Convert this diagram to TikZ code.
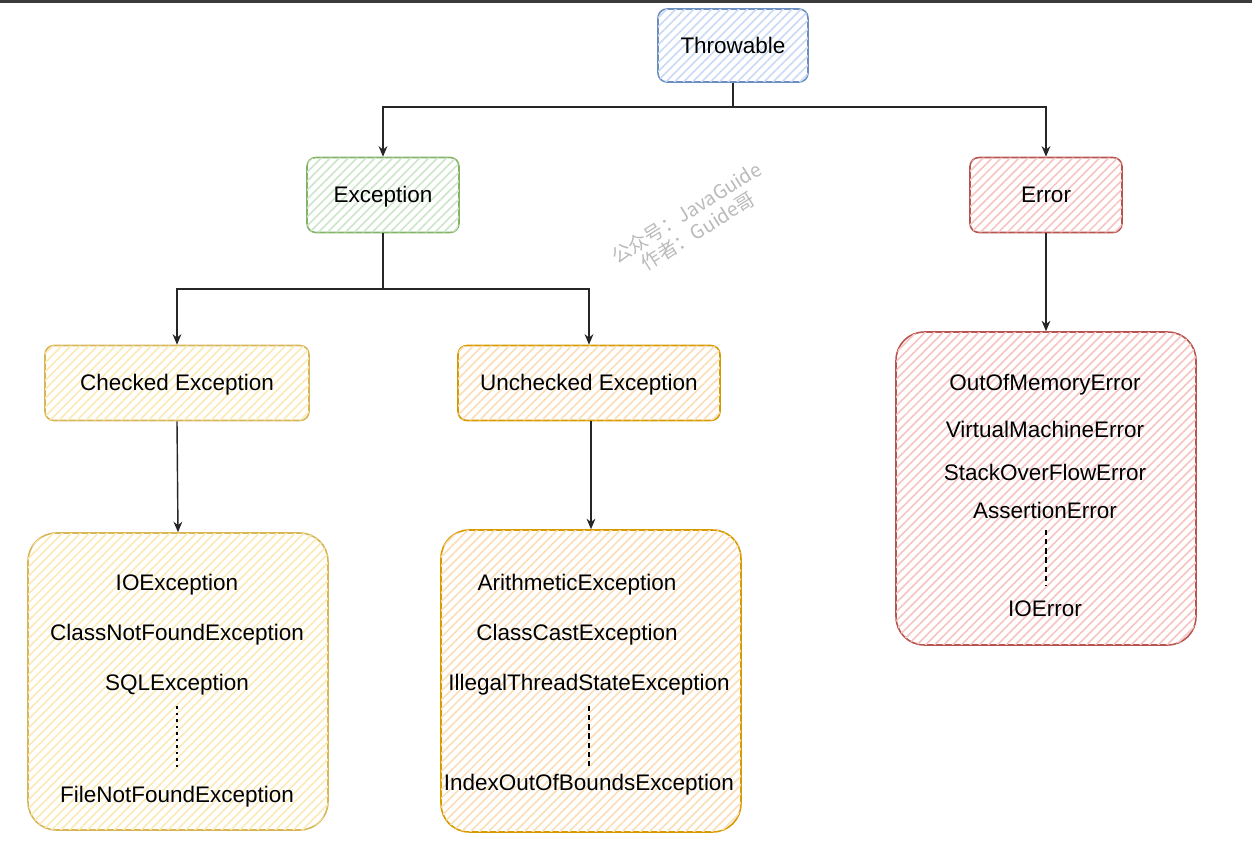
\documentclass[tikz,border=0pt]{standalone}
\usepackage{fontspec}
\setmainfont{Liberation Sans}
\newfontfamily\cjkfont{Noto Sans CJK SC}
\usetikzlibrary{arrows.meta,patterns.meta}
\definecolor{blueB}{HTML}{6C8EBF}\definecolor{blueH}{HTML}{C9DAF5}
\definecolor{greenB}{HTML}{82B366}\definecolor{greenH}{HTML}{CDE5C9}
\definecolor{redB}{HTML}{B85450}\definecolor{redH}{HTML}{F6C4C2}
\definecolor{yelB}{HTML}{D6B656}\definecolor{yelH}{HTML}{FCE9B4}
\definecolor{oraB}{HTML}{D79B00}\definecolor{oraH}{HTML}{FBDDB8}
\definecolor{barC}{HTML}{3B3B3B}
\tikzset{
  base/.style={draw=#1B, line width=0.9pt, fill=white, font=\fontsize{12.8}{15}\selectfont,
    text depth=0.05em,
    postaction={pattern={Lines[angle=45,distance=3.6pt,line width=0.9pt]}, pattern color=#1H}},
  smallbox/.style={base=#1, rounded corners=5pt},
  bigbox/.style={base=#1, rounded corners=16pt},
  lbl/.style={font=\fontsize{12.8}{15}\selectfont, inner sep=1pt, yshift=-1.2pt},
  arr/.style={-{Stealth[length=6pt,width=5pt]}, line width=0.8pt, draw=black!85},
  wm/.style={font=\cjkfont\fontsize{11}{12.4}\selectfont, text=black!27, rotate=32, align=left, inner sep=0pt}
}
\begin{document}
\begin{tikzpicture}[x=0.02cm,y=-0.02cm]
\useasboundingbox (0,0) rectangle (1252,855);
\fill[barC] (0,0) rectangle (1252,3.5);
% top boxes
\node[smallbox=blue, minimum width=3cm, minimum height=1.46cm] (thr) at (733,45.5) {Throwable};
\node[smallbox=green, minimum width=3.04cm, minimum height=1.5cm] (exc) at (383,195) {Exception};
\node[smallbox=red, minimum width=3.04cm, minimum height=1.5cm] (err) at (1046,195) {Error};
\node[smallbox=yel, minimum width=5.28cm, minimum height=1.5cm] (chk) at (177,383) {Checked Exception};
\node[smallbox=ora, minimum width=5.24cm, minimum height=1.5cm] (unc) at (589,383) {Unchecked Exception};
% big boxes
\node[bigbox=yel, minimum width=6cm, minimum height=5.94cm] (chkl) at (178,681.5) {};
\node[bigbox=ora, minimum width=6cm, minimum height=6.04cm] (uncl) at (591,681) {};
\node[bigbox=red, minimum width=6cm, minimum height=6.26cm] (errl) at (1046,488.5) {};
% list texts
\node[lbl] (c1) at (177,583) {IOException};
\node[lbl] (c2) at (177,633) {ClassNotFoundException};
\node[lbl] (c3) at (177,683) {SQLException};
\node[lbl] (c4) at (177,795) {FileNotFoundException};
\node[lbl] (u1) at (577,583) {ArithmeticException};
\node[lbl] (u2) at (577,633) {ClassCastException};
\node[lbl] (u3) at (589,683) {IllegalThreadStateException};
\node[lbl] (u4) at (589,783) {IndexOutOfBoundsException};
\node[lbl] (e1) at (1045,383) {OutOfMemoryError};
\node[lbl] (e2) at (1045,427) {VirtualMachineError};
\node[lbl] (e3) at (1045,470) {StackOverFlowError};
\node[lbl] (e4) at (1045,508) {AssertionError};
\node[lbl] (e5) at (1045,607) {IOError};
% ellipsis lines
\coordinate (cd1) at (177,706); \coordinate (cd2) at (177,770);
\draw[line width=1.4pt, dash pattern=on 1.5pt off 2.2pt] (cd1) -- (cd2);
\coordinate (ud1) at (589,706); \coordinate (ud2) at (589,769);
\draw[line width=1.4pt, dash pattern=on 3pt off 2.2pt] (ud1) -- (ud2);
\coordinate (ed1) at (1046,530); \coordinate (ed2) at (1046,585);
\draw[line width=1.4pt, dash pattern=on 3pt off 2.2pt] (ed1) -- (ed2);
% connectors
\coordinate (j1) at (733,107);
\draw[arr] (thr.south) -- (j1) -| (exc.north);
\draw[arr] (j1) -| (err.north);
\coordinate (j2) at (383,289);
\draw[arr] (exc.south) -- (j2) -| (chk.north);
\draw[arr] (j2) -| (unc.north);
\draw[arr] (chk.south) -- (chkl.north);
\draw[arr] (unc.south -| uncl.north) -- (uncl.north);
\draw[arr] (err.south) -- (errl.north);
% watermark
\node[wm, anchor=center] (wm) at (692,222) {公众号：JavaGuide\\\hspace*{1.1em}作者：Guide哥};
\end{tikzpicture}
\end{document}
